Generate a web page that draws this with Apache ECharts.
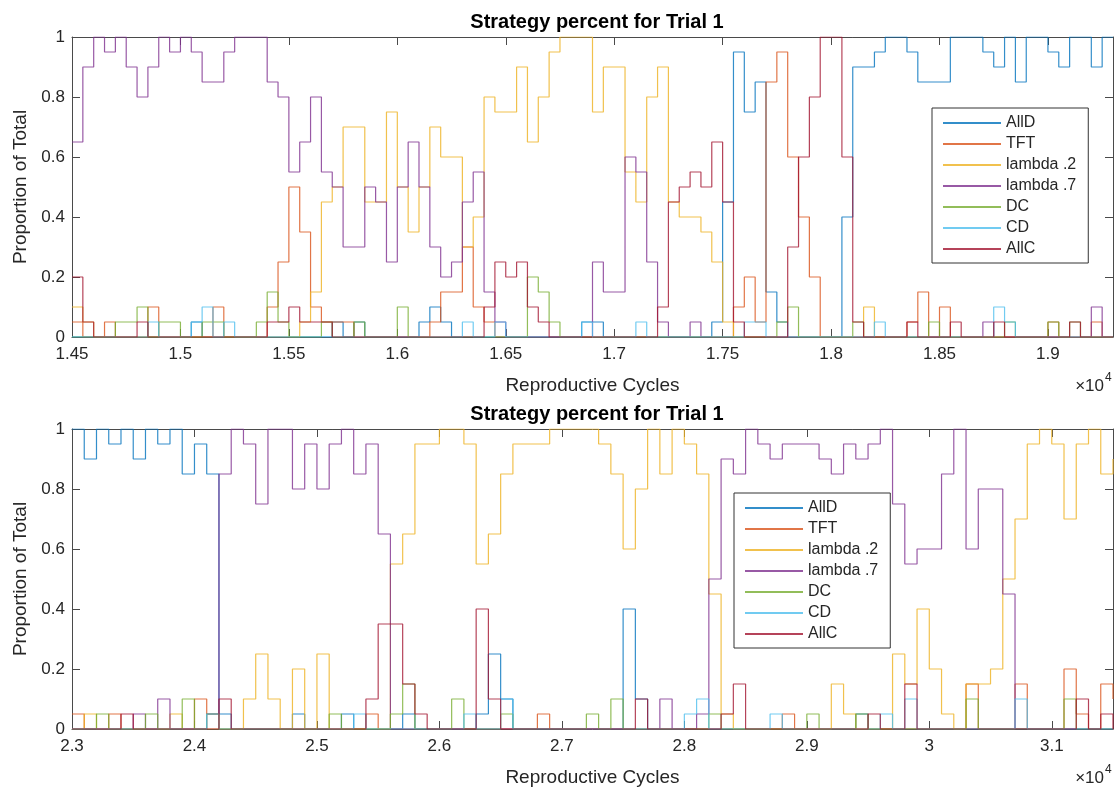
<!DOCTYPE html>
<html>
<head>
<meta charset="utf-8">
<title>Strategy percent for Trial 1</title>
<script src="https://cdn.jsdelivr.net/npm/echarts@6/dist/echarts.min.js"></script>
<style>
  html, body { margin: 0; padding: 0; background: #fff; }
  #chart { width: 1119px; height: 792px; }
</style>
</head>
<body>
<div id="chart"></div>
<script>
// shares, stored as counts out of 20 (share = n / 20)
const strategyNames = ["AllD", "TFT", "lambda .2", "lambda .7", "DC", "CD", "AllC"];

// top panel: one sample every 50 cycles, 14500 .. 19300
const topStart = 14500;
const topStep = 50;
const topAllD = [
  0,0,0,0,0,0,0,0,0,0,  0,1,0,0,0,0,0,0,0,0,  0,0,0,0,1,0,1,0,0,0,
  0,0,1,2,1,0,0,0,0,0,  0,0,0,0,0,0,0,1,1,0,  0,0,0,0,0,0,0,0,0,1,
  9,19,15,17,3,1,0,0,0,0,  0,8,18,18,19,20,20,19,17,17,  17,20,20,20,19,18,20,17,20,20,
  19,18,20,20,18,20,20];
const topTFT = [
  1,0,0,1,0,0,0,2,0,0,  0,0,0,2,0,0,0,0,2,5,  10,7,2,1,1,1,0,0,0,0,
  0,0,0,1,3,3,6,2,1,0,  0,0,0,0,0,0,0,0,0,0,  0,0,0,0,0,0,0,0,0,0,
  0,2,4,1,17,19,12,8,4,0,  0,0,0,0,0,0,0,1,3,0,  2,0,0,0,0,0,0,0,0,0,
  1,0,0,0,1,0,0];
const topLambda2 = [
  2,1,0,0,0,0,0,0,0,0,  0,0,0,0,0,0,0,0,0,0,  0,1,3,9,10,14,14,9,9,15,
  10,7,10,14,12,12,6,8,16,15,  15,18,13,16,19,20,20,20,15,18,  18,11,9,16,18,9,8,8,7,5,
  1,0,0,0,0,0,0,0,0,0,  0,0,0,2,0,0,0,0,0,0,  0,0,0,0,0,0,0,0,0,0,
  0,0,0,0,0,0,0];
const topLambda7 = [
  13,18,20,19,20,18,16,18,20,19,  20,19,17,17,19,20,20,20,17,16,  11,13,16,11,10,6,6,10,9,5,
  10,13,10,6,4,5,9,11,3,1,  0,0,0,0,0,0,0,0,5,3,  3,12,11,5,1,0,0,1,0,0,
  0,0,0,0,0,0,0,0,0,0,  0,0,0,0,0,0,0,0,0,0,  0,0,0,0,1,0,0,0,0,0,
  0,0,0,0,2,0,0];
const topDC = [
  0,0,0,0,1,1,2,0,1,1,  0,0,1,1,0,0,0,1,3,1,  0,0,0,1,0,0,1,0,0,0,
  2,0,0,0,0,0,0,0,0,0,  0,0,4,3,1,0,0,0,0,0,  0,0,0,0,0,0,0,0,0,0,
  0,0,0,0,0,1,2,0,0,0,  0,0,1,0,0,0,0,0,0,1,  0,0,0,0,0,0,1,0,0,0,
  1,0,1,0,0,0,0];
const topCD = [
  0,0,0,0,0,0,0,1,0,0,  0,1,2,0,1,0,0,0,0,0,  0,0,0,0,0,0,0,0,0,0,
  0,0,0,0,0,0,1,0,0,1,  0,0,0,0,0,0,0,1,0,0,  0,0,1,0,0,0,0,0,0,0,
  0,0,1,1,0,0,0,0,0,0,  0,0,0,0,1,0,0,0,0,0,  0,0,0,0,0,2,1,0,0,0,
  0,0,0,0,0,0,0];
const topAllC = [
  4,1,0,0,0,0,1,0,0,0,  0,0,0,0,0,0,0,0,1,1,  2,1,1,1,0,0,0,0,0,0,
  0,0,0,0,0,0,0,0,2,5,  4,5,2,1,0,0,0,0,0,0,  0,0,0,0,2,9,10,11,10,13,
  9,1,0,0,0,0,6,12,16,20,  20,12,1,0,0,0,0,1,0,0,  0,1,0,0,0,1,0,0,0,0,
  0,0,1,0,0,0,0];

// bottom panel: one sample every 100 cycles, 23000 .. 31500
const botStart = 23000;
const botStep = 100;
const botAllD = [
  20,18,20,19,20,18,20,19,20,17,  19,17,1,0,0,0,0,0,1,0,  0,0,1,0,0,0,0,1,0,0,
  0,0,0,1,5,2,0,0,0,0,  0,0,0,0,0,8,2,0,0,0,  0,0,0,0,0,0,0,0,0,0,
  0,0,0,0,1,0,0,0,0,0,  0,0,0,0,0,0,0,0,0,0,  0,0,0,0,0,0];
const botTFT = [
  1,0,0,1,0,0,0,0,0,0,  2,1,0,0,0,0,0,0,0,0,  0,0,0,0,1,0,0,0,0,0,
  0,0,0,0,0,0,0,0,1,0,  0,0,0,0,0,0,0,0,0,0,  0,0,0,0,0,0,0,0,1,0,
  0,0,0,0,0,0,0,0,0,0,  0,0,0,3,0,0,0,3,0,0,  0,4,1,0,3,2];
const botLambda2 = [
  0,1,0,0,0,0,0,0,1,0,  0,0,0,0,2,5,2,0,4,0,  5,0,0,0,0,0,11,13,19,19,
  20,20,19,11,13,17,19,19,19,20,  20,20,20,19,17,12,16,20,17,20,  19,17,9,1,0,0,0,0,0,0,
  0,0,3,1,0,0,0,5,3,8,  4,1,0,3,3,4,10,14,19,20,  19,14,19,20,17,18];
const botLambda7 = [
  0,0,0,0,0,1,0,2,0,0,  0,1,17,20,19,15,20,20,16,19,  16,19,20,17,19,13,0,0,0,0,
  0,0,0,0,0,0,0,0,0,0,  0,0,0,0,0,0,0,0,2,0,  0,1,10,18,17,20,19,18,19,19,
  19,18,17,19,18,19,20,15,11,12,  12,17,20,12,16,16,9,0,0,0,  0,0,0,0,0,0];
const botDC = [
  0,0,1,0,0,0,1,0,0,2,  0,1,0,0,0,0,0,0,0,0,  0,1,0,0,0,0,1,3,0,0,
  0,2,0,0,0,1,0,0,0,0,  0,0,1,0,2,0,0,0,0,0,  0,0,1,0,0,0,0,0,0,0,
  1,0,0,0,1,0,0,0,0,0,  0,0,0,2,0,0,0,0,0,0,  0,2,0,0,0,0];
const botCD = [
  0,0,0,0,0,0,0,0,0,0,  0,1,0,0,0,0,0,0,0,0,  0,0,0,1,0,0,0,0,0,0,
  0,0,1,0,0,2,0,0,0,0,  0,0,0,0,0,0,0,0,0,0,  1,2,0,0,0,0,0,1,0,0,
  0,0,0,0,0,0,1,0,2,0,  0,0,0,0,0,0,0,2,0,0,  0,0,0,0,0,0];
const botAllC = [
  0,0,0,0,1,0,0,0,0,0,  0,0,2,0,0,0,0,0,0,0,  0,0,0,0,2,7,7,3,1,0,
  0,0,0,8,2,0,0,0,0,0,  0,0,0,0,0,0,2,0,0,0,  0,0,0,1,3,0,0,0,0,0,
  0,0,0,0,0,1,0,0,3,0,  0,0,0,0,0,0,0,0,0,0,  0,0,2,0,1,0];

const topCounts = [topAllD, topTFT, topLambda2, topLambda7, topDC, topCD, topAllC];
const botCounts = [botAllD, botTFT, botLambda2, botLambda7, botDC, botCD, botAllC];

// matlab default line colours
const colors = ["#0072BD", "#D95319", "#EDB120", "#7E2F8E", "#77AC30", "#4DBEEE", "#A2142F"];
const FONT = '"Liberation Sans", Arial, Helvetica, sans-serif';
const TEXT = "#262626";
const AXIS = "#4a4a4a";

const toPoints = (start, step, counts) => counts.map((n, i) => [start + i * step, n / 20]);

function makeSeries(panel, start, step, countsList) {
  return countsList.map((counts, s) => ({
    type: "line",
    name: strategyNames[s],
    xAxisIndex: panel * 2,
    yAxisIndex: panel * 2,
    data: toPoints(start, step, counts),
    step: "end",
    symbol: "none",
    showSymbol: false,
    silent: true,
    lineStyle: { width: 1.2, color: colors[s], opacity: 0.8 },
    itemStyle: { color: colors[s] }
  }));
}

function xAxesFor(grid, min, max, interval) {
  const common = {
    gridIndex: grid, type: "value", min, max, interval,
    axisLine: { onZero: false, lineStyle: { color: AXIS, width: 1 } },
    axisTick: { inside: true, length: 8, lineStyle: { color: AXIS } },
    splitLine: { show: false }
  };
  return [
    Object.assign({}, common, {
      position: "bottom",
      name: "Reproductive Cycles",
      nameLocation: "middle",
      nameGap: 39,
      nameTextStyle: { fontSize: 19, color: TEXT, fontFamily: FONT },
      axisLabel: {
        fontSize: 17, color: TEXT, fontFamily: FONT, margin: 9,
        showMaxLabel: false,
        formatter: (v) => String(Number((v / 10000).toFixed(3)))
      }
    }),
    Object.assign({}, common, { position: "top", axisLabel: { show: false } })
  ];
}

function yAxesFor(grid) {
  const common = {
    gridIndex: grid, type: "value", min: 0, max: 1, interval: 0.2,
    axisLine: { show: true, onZero: false, lineStyle: { color: AXIS, width: 1 } },
    axisTick: { show: true, inside: true, length: 8, lineStyle: { color: AXIS } },
    splitLine: { show: false }
  };
  return [
    Object.assign({}, common, {
      position: "left",
      name: "Proportion of Total",
      nameLocation: "middle",
      nameGap: 42,
      nameTextStyle: { fontSize: 19, color: TEXT, fontFamily: FONT },
      axisLabel: { fontSize: 17, color: TEXT, fontFamily: FONT, margin: 7 }
    }),
    Object.assign({}, common, { position: "right", axisLabel: { show: false } })
  ];
}

function legendAt(left, top) {
  return {
    data: strategyNames,
    orient: "vertical",
    left, top,
    icon: "rect",
    itemWidth: 58,
    itemHeight: 2,
    itemGap: 5,
    padding: [7, 12, 6, 11],
    backgroundColor: "#fff",
    borderColor: "#333",
    borderWidth: 1,
    selectedMode: false,
    itemStyle: { opacity: 0.8 },
    textStyle: { fontSize: 16, lineHeight: 16, color: TEXT, fontFamily: FONT }
  };
}

function exponentLabel(baseY) {
  return [
    { type: "text", x: 1104, y: baseY, silent: true,
      style: { text: "\u00d710", font: "17px " + FONT, fill: TEXT, align: "right", verticalAlign: "bottom" } },
    { type: "text", x: 1105, y: baseY - 11, silent: true,
      style: { text: "4", font: "12px " + FONT, fill: TEXT, align: "left", verticalAlign: "bottom" } }
  ];
}

const chart = echarts.init(document.getElementById("chart"), null, { renderer: "canvas" });

chart.setOption({
  animation: false,
  backgroundColor: "#fff",
  title: [
    { text: "Strategy percent for Trial 1", left: 592, top: 7, textAlign: "center",
      textStyle: { fontSize: 20, fontWeight: "bold", color: "#000", fontFamily: FONT } },
    { text: "Strategy percent for Trial 1", left: 592, top: 399, textAlign: "center",
      textStyle: { fontSize: 20, fontWeight: "bold", color: "#000", fontFamily: FONT } }
  ],
  grid: [
    { left: 72, top: 37, width: 1041, height: 300, outerBoundsMode: "none" },
    { left: 72, top: 429, width: 1041, height: 300, outerBoundsMode: "none" }
  ],
  xAxis: [].concat(xAxesFor(0, 14500, 19300, 500), xAxesFor(1, 23000, 31500, 1000)),
  yAxis: [].concat(yAxesFor(0), yAxesFor(1)),
  legend: [legendAt(932, 108), legendAt(734, 493)],
  graphic: [].concat(exponentLabel(395), exponentLabel(787)),
  series: [].concat(
    makeSeries(0, topStart, topStep, topCounts),
    makeSeries(1, botStart, botStep, botCounts)
  )
});
</script>
</body>
</html>
